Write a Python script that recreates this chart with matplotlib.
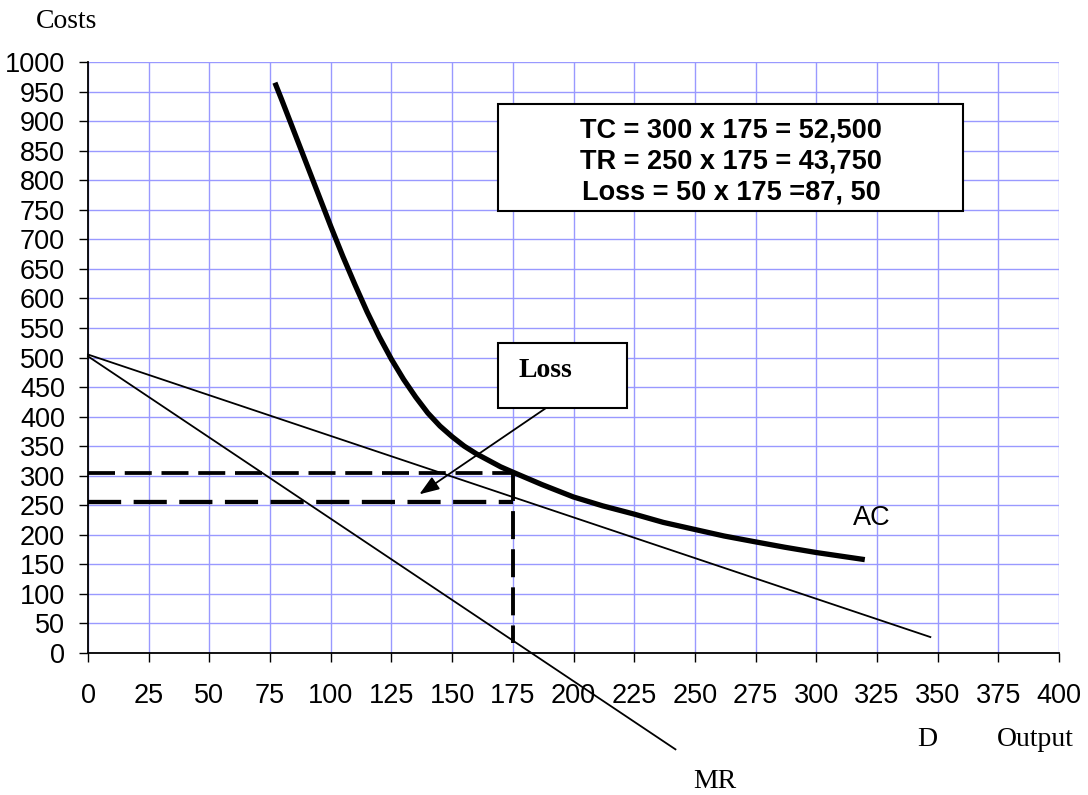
import matplotlib
matplotlib.use("Agg")
import matplotlib.pyplot as plt
from matplotlib.patches import Rectangle

# ---- data ----
ac_q = [77, 80, 85, 90, 95, 100, 105, 110, 115, 120, 125, 130, 135, 140, 145, 150, 155, 160, 165, 170, 175,
        187, 200, 212, 225, 237, 250, 262, 275, 287, 300, 310, 320]
ac_cost = [965, 934, 881, 828, 775, 722, 671, 623, 577, 535, 497, 463, 433, 406, 384, 366, 350, 337, 326, 315, 306,
           285, 264, 249, 235, 221, 209, 198, 188, 179, 170, 164, 158]
d_q = [0, 347]
d_price = [505, 27]
mr_q = [0, 242]
mr_rev = [502, -163]
q_star = 175
ac_star = 305
p_star = 255
x_ticks = list(range(0, 401, 25))
y_ticks = list(range(0, 1001, 50))
box_lines = ["TC = 300 x 175 = 52,500", "TR = 250 x 175 = 43,750", "Loss = 50 x 175 =87, 50"]

fig = plt.figure(figsize=(10.88, 7.95), dpi=100)
ax = fig.add_axes([88/1088, 1-653/795, (1059-88)/1088, (653-62)/795])
ax.set_xlim(0, 400)
ax.set_ylim(0, 1000)
ax.set_xticks(x_ticks)
ax.set_yticks(y_ticks)
ax.grid(True, color="#9999FF", lw=1.0)
ax.set_axisbelow(True)
for s in ["top", "right"]:
    ax.spines[s].set_visible(False)
for s in ["left", "bottom"]:
    ax.spines[s].set_linewidth(1.3)
ax.tick_params(axis="both", direction="out", length=6.5, width=1.0, labelsize=19.5, colors="black")
ax.tick_params(axis="y", pad=10)
ax.tick_params(axis="x", pad=15)
for lab in ax.get_xticklabels() + ax.get_yticklabels():
    lab.set_fontfamily("Liberation Sans")

# demand and MR lines
ax.plot(d_q, d_price, color="black", lw=1.3, clip_on=False, zorder=3)
ax.plot(mr_q, mr_rev, color="black", lw=1.3, clip_on=False, zorder=3)

# AC curve
ax.plot(ac_q, ac_cost, color="black", lw=3.8, solid_capstyle="butt",
        solid_joinstyle="round", zorder=4)

# dashed guides
ax.plot([0, q_star], [ac_star, ac_star], color="black", lw=2.7, ls=(0, (7.2, 2.6)), zorder=3)
ax.plot([0, q_star], [p_star, p_star], color="black", lw=3.1, ls=(0, (7.7, 2.9)), zorder=3)
ax.plot([q_star, q_star], [ac_star, 17], color="black", lw=2.8, ls=(0, (7.2, 2.6)), zorder=3)

# text box with calculations
ax.add_patch(Rectangle((169.1, 748), 360.3-169.1, 929-748, facecolor="white",
                       edgecolor="black", lw=1.5, zorder=5))
for i, line in enumerate(box_lines):
    ax.text(265, 884 - i*52.5, line, ha="center", va="center", fontsize=19.5,
            fontweight="bold", family="Liberation Sans", zorder=6)

# Loss callout
ax.add_patch(Rectangle((169.1, 414), 222-169.1, 525-414, facecolor="white",
                       edgecolor="black", lw=1.5, zorder=5))
ax.text(188.5, 478, "Loss", ha="center", va="center", fontsize=20,
        fontweight="bold", family="Liberation Serif", zorder=6)
ax.annotate("", xy=(136.5, 268.5), xytext=(188.5, 414),
            arrowprops=dict(arrowstyle="-|>,head_length=0.6,head_width=0.22", color="black", lw=1.3,
                            mutation_scale=20, shrinkA=0, shrinkB=0), zorder=6)

# labels
ax.text(323, 228, "AC", ha="center", va="center", fontsize=19.5, family="Liberation Sans")
fig.text(67/1088, 1-22/795, "Costs", ha="center", va="center", fontsize=20, family="Liberation Serif")
fig.text(927/1088, 1-739/795, "D", ha="center", va="center", fontsize=20, family="Liberation Serif")
fig.text(1035/1088, 1-739/795, "Output", ha="center", va="center", fontsize=20, family="Liberation Serif")
fig.text(715/1088, 1-782/795, "MR", ha="center", va="center", fontsize=20, family="Liberation Serif")

fig.savefig("out.png", dpi=100)
